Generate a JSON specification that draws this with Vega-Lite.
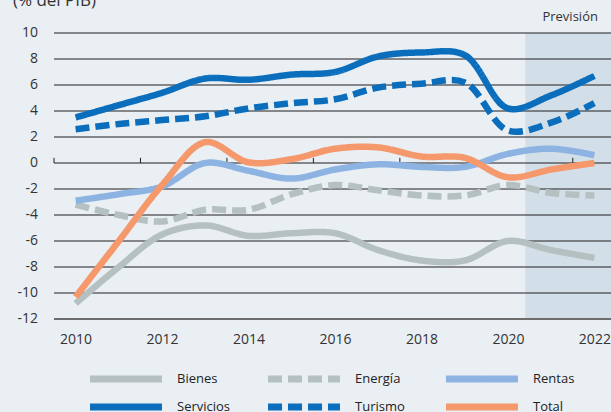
{
  "$schema": "https://vega.github.io/schema/vega-lite/v6.json",
  "width": 562,
  "height": 286,
  "autosize": {"type": "none"},
  "padding": {"left": 54, "top": 33, "right": 0, "bottom": 93},
  "background": "#eaeff4",
  "config": {
    "font": "Open Sans",
    "view": {"stroke": null},
    "axis": {"labelColor": "#333333", "labelFontSize": 14, "domain": false, "ticks": false, "grid": false, "title": null, "labelOverlap": false},
    "axisY": {"labels": false},
    "axisX": {"labelPadding": 13, "format": "d"}
  },
  "datasets": {
    "series": [
      {"year": 2010, "serie": "Bienes", "value": -10.8},
      {"year": 2011, "serie": "Bienes", "value": -8.0},
      {"year": 2012, "serie": "Bienes", "value": -5.5},
      {"year": 2013, "serie": "Bienes", "value": -4.8},
      {"year": 2014, "serie": "Bienes", "value": -5.6},
      {"year": 2015, "serie": "Bienes", "value": -5.4},
      {"year": 2016, "serie": "Bienes", "value": -5.4},
      {"year": 2017, "serie": "Bienes", "value": -6.7},
      {"year": 2018, "serie": "Bienes", "value": -7.5},
      {"year": 2019, "serie": "Bienes", "value": -7.5},
      {"year": 2020, "serie": "Bienes", "value": -6.0},
      {"year": 2021, "serie": "Bienes", "value": -6.7},
      {"year": 2022, "serie": "Bienes", "value": -7.3},
      {"year": 2010, "serie": "Energía", "value": -3.2},
      {"year": 2011, "serie": "Energía", "value": -4.0},
      {"year": 2012, "serie": "Energía", "value": -4.5},
      {"year": 2013, "serie": "Energía", "value": -3.6},
      {"year": 2014, "serie": "Energía", "value": -3.6},
      {"year": 2015, "serie": "Energía", "value": -2.4},
      {"year": 2016, "serie": "Energía", "value": -1.7},
      {"year": 2017, "serie": "Energía", "value": -2.1},
      {"year": 2018, "serie": "Energía", "value": -2.5},
      {"year": 2019, "serie": "Energía", "value": -2.5},
      {"year": 2020, "serie": "Energía", "value": -1.7},
      {"year": 2021, "serie": "Energía", "value": -2.3},
      {"year": 2022, "serie": "Energía", "value": -2.5},
      {"year": 2010, "serie": "Rentas", "value": -2.9},
      {"year": 2011, "serie": "Rentas", "value": -2.4},
      {"year": 2012, "serie": "Rentas", "value": -1.8},
      {"year": 2013, "serie": "Rentas", "value": 0.0},
      {"year": 2014, "serie": "Rentas", "value": -0.6},
      {"year": 2015, "serie": "Rentas", "value": -1.2},
      {"year": 2016, "serie": "Rentas", "value": -0.5},
      {"year": 2017, "serie": "Rentas", "value": -0.1},
      {"year": 2018, "serie": "Rentas", "value": -0.3},
      {"year": 2019, "serie": "Rentas", "value": -0.3},
      {"year": 2020, "serie": "Rentas", "value": 0.7},
      {"year": 2021, "serie": "Rentas", "value": 1.1},
      {"year": 2022, "serie": "Rentas", "value": 0.6},
      {"year": 2010, "serie": "Servicios", "value": 3.5},
      {"year": 2011, "serie": "Servicios", "value": 4.45},
      {"year": 2012, "serie": "Servicios", "value": 5.4},
      {"year": 2013, "serie": "Servicios", "value": 6.5},
      {"year": 2014, "serie": "Servicios", "value": 6.4},
      {"year": 2015, "serie": "Servicios", "value": 6.8},
      {"year": 2016, "serie": "Servicios", "value": 7.0},
      {"year": 2017, "serie": "Servicios", "value": 8.2},
      {"year": 2018, "serie": "Servicios", "value": 8.5},
      {"year": 2019, "serie": "Servicios", "value": 8.3},
      {"year": 2020, "serie": "Servicios", "value": 4.2},
      {"year": 2021, "serie": "Servicios", "value": 5.2},
      {"year": 2022, "serie": "Servicios", "value": 6.7},
      {"year": 2010, "serie": "Turismo", "value": 2.6},
      {"year": 2011, "serie": "Turismo", "value": 3.0},
      {"year": 2012, "serie": "Turismo", "value": 3.3},
      {"year": 2013, "serie": "Turismo", "value": 3.6},
      {"year": 2014, "serie": "Turismo", "value": 4.2},
      {"year": 2015, "serie": "Turismo", "value": 4.6},
      {"year": 2016, "serie": "Turismo", "value": 4.9},
      {"year": 2017, "serie": "Turismo", "value": 5.8},
      {"year": 2018, "serie": "Turismo", "value": 6.1},
      {"year": 2019, "serie": "Turismo", "value": 6.2},
      {"year": 2020, "serie": "Turismo", "value": 2.5},
      {"year": 2021, "serie": "Turismo", "value": 3.1},
      {"year": 2022, "serie": "Turismo", "value": 4.6},
      {"year": 2010, "serie": "Total", "value": -10.3},
      {"year": 2011, "serie": "Total", "value": -6.0},
      {"year": 2012, "serie": "Total", "value": -1.7},
      {"year": 2013, "serie": "Total", "value": 1.6},
      {"year": 2014, "serie": "Total", "value": 0.05},
      {"year": 2015, "serie": "Total", "value": 0.3},
      {"year": 2016, "serie": "Total", "value": 1.1},
      {"year": 2017, "serie": "Total", "value": 1.2},
      {"year": 2018, "serie": "Total", "value": 0.5},
      {"year": 2019, "serie": "Total", "value": 0.4},
      {"year": 2020, "serie": "Total", "value": -1.1},
      {"year": 2021, "serie": "Total", "value": -0.5},
      {"year": 2022, "serie": "Total", "value": 0.0}
    ],
    "grid": [
      {"v": -12}, {"v": -10}, {"v": -8}, {"v": -6}, {"v": -4}, {"v": -2}, {"v": 0},
      {"v": 2}, {"v": 4}, {"v": 6}, {"v": 8}, {"v": 10}
    ],
    "ticks": [
      {"t": 2009.5}, {"t": 2011.5}, {"t": 2013.5}, {"t": 2015.5},
      {"t": 2017.5}, {"t": 2019.5}, {"t": 2021.5}
    ],
    "forecast": [{"start": 2020.4, "end": 2022.5}],
    "note": [{"label": "Previsión"}],
    "unit": [{"label": "(% del PIB)"}]
  },
  "layer": [
    {
      "data": {"name": "forecast"},
      "mark": {"type": "rect", "color": "#d3dfe8"},
      "encoding": {
        "x": {"field": "start", "type": "quantitative", "scale": {"domain": [2009.5, 2022.5], "nice": false, "zero": false},
          "axis": {"values": [2010, 2012, 2014, 2016, 2018, 2020, 2022]}},
        "x2": {"field": "end"},
        "y": {"datum": -12, "type": "quantitative", "scale": {"domain": [-12, 10], "nice": false}},
        "y2": {"datum": 10}
      }
    },
    {
      "data": {"name": "grid"},
      "mark": {"type": "rule", "color": "#1f1f1f", "strokeWidth": 1},
      "encoding": {"y": {"field": "v", "type": "quantitative", "scale": {"domain": [-12, 10], "nice": false}}}
    },
    {
      "data": {"name": "grid"},
      "mark": {"type": "rule", "color": "#6e6e6e", "strokeWidth": 1.6},
      "encoding": {"y": {"datum": -12, "type": "quantitative"}}
    },
    {
      "data": {"name": "grid"},
      "mark": {"type": "text", "fontSize": 14, "color": "#333333", "align": "right", "baseline": "middle", "dx": -16},
      "encoding": {
        "text": {"field": "v", "type": "nominal"},
        "x": {"datum": 2009.5, "type": "quantitative"},
        "y": {"field": "v", "type": "quantitative"}
      }
    },
    {
      "data": {"name": "ticks"},
      "mark": {"type": "rule", "color": "#1f1f1f", "strokeWidth": 1},
      "encoding": {
        "x": {"field": "t", "type": "quantitative", "scale": {"domain": [2009.5, 2022.5], "nice": false, "zero": false}},
        "y": {"datum": 0, "type": "quantitative"},
        "y2": {"datum": 0.4}
      }
    },
    {
      "data": {"name": "series"},
      "mark": {"type": "line", "interpolate": "catmull-rom", "strokeWidth": 6.5, "strokeCap": "butt"},
      "encoding": {
        "x": {"field": "year", "type": "quantitative", "scale": {"domain": [2009.5, 2022.5], "nice": false, "zero": false}},
        "y": {"field": "value", "type": "quantitative", "scale": {"domain": [-12, 10], "nice": false}},
        "color": {
          "field": "serie", "type": "nominal",
          "scale": {
            "domain": ["Bienes", "Energía", "Rentas", "Servicios", "Turismo", "Total"],
            "range": ["#b5c0c0", "#b5c0c0", "#8db3e2", "#0a6ebd", "#0a6ebd", "#f5986b"]
          },
          "legend": {
            "orient": "none",
            "direction": "horizontal",
            "legendX": 61,
            "legendY": 335,
            "columns": 3,
            "title": null,
            "symbolType": "M-5,0L5,0",
            "symbolSize": 207,
            "symbolStrokeWidth": 7,
            "labelFontSize": 13,
            "labelColor": "#222222",
            "labelOffset": 40,
            "columnPadding": 23,
            "rowPadding": 0,
            "gridAlign": "all",
            "padding": 0
          }
        },
        "strokeDash": {
          "field": "serie", "type": "nominal",
          "scale": {
            "domain": ["Bienes", "Energía", "Rentas", "Servicios", "Turismo", "Total"],
            "range": [[1, 0], [14, 6], [1, 0], [1, 0], [14, 6], [1, 0]]
          }
        }
      }
    },
    {
      "data": {"name": "note"},
      "mark": {"type": "text", "fontSize": 13, "color": "#333333", "baseline": "middle", "align": "center"},
      "encoding": {
        "text": {"field": "label"},
        "x": {"datum": 2021.44, "type": "quantitative"},
        "y": {"datum": 11.2, "type": "quantitative"}
      }
    },
    {
      "data": {"name": "unit"},
      "mark": {"type": "text", "fontSize": 17, "color": "#333333", "baseline": "alphabetic", "align": "left"},
      "encoding": {
        "text": {"field": "label"},
        "x": {"datum": 2008.55, "type": "quantitative"},
        "y": {"datum": 12.1, "type": "quantitative"}
      }
    }
  ]
}
